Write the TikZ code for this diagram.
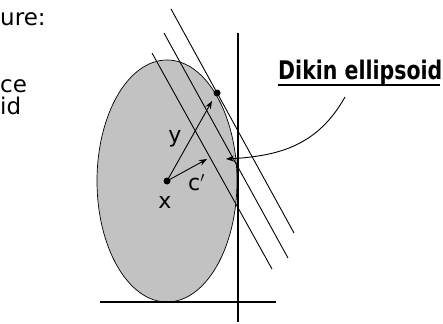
\documentclass[tikz,border=0pt]{standalone}
\usepackage{fontspec}
\setmainfont{DejaVu Sans}
\usetikzlibrary{arrows.meta}
\definecolor{ellgray}{RGB}{194,194,194}
\begin{document}
\begin{tikzpicture}[x=1pt,y=-1pt,
  thinline/.style={line width=0.9pt},
  tip/.style={-{Stealth[length=8pt,width=6pt]}},
  dotnode/.style={circle,fill=black,inner sep=0pt,minimum size=7pt},
  lbl/.style={font=\fontsize{22}{26}\selectfont,inner sep=0pt,anchor=base},
  sidetext/.style={font=\fontsize{23}{27}\selectfont,inner sep=0pt,anchor=base west}]
\useasboundingbox (0,0) rectangle (443,323);
% ellipse
\filldraw[fill=ellgray,draw=black,line width=0.7pt] (167,181) ellipse [x radius=70, y radius=121];
% axes lines
\coordinate (hl) at (100,302); \coordinate (hr) at (276,302);
\coordinate (vt) at (238,33); \coordinate (vb) at (238,322);
\draw[line width=1.8pt] (hl) -- (hr);
\draw[line width=1.1pt] (vt) -- (vb);
% parallel lines
\coordinate (o1) at (171,9);  \coordinate (o2) at (294,233);
\coordinate (m1) at (164,33); \coordinate (m2) at (288,258);
\coordinate (i1) at (152,53); \coordinate (i2) at (272,269);
\draw[thinline] (o1) -- (o2);
\draw[thinline] (m1) -- (m2);
\draw[thinline] (i1) -- (i2);
% dots
\node[dotnode] (xdot) at (167,181) {};
\node[dotnode] (ydot) at (217,93) {};
\coordinate (yhead) at (212,101);
\coordinate (chead) at (207,159);
\draw[thinline,tip] (xdot.center) -- (yhead);
\draw[thinline,tip] (xdot.center) -- (chead);
% labels
\node[lbl] (ylab) at (175,142) {y};
\node[lbl,anchor=base west] (clab) at (188,190) {c$'$};
\node[lbl] (xlab) at (165,208) {x};
% Dikin
\node[font=\fontsize{20.5}{24}\selectfont\bfseries,inner sep=0pt,anchor=base west] (dikin) at (278,80) {\scalebox{1}[1.25]{Dikin ellipsoid}};
\coordinate (ul1) at (278,85); \coordinate (ul2) at (440,85);
\draw[line width=2.6pt] (ul1) -- (ul2);
\coordinate (cs) at (345,97);
\coordinate (ce) at (226,159);
\draw[thinline,tip] (cs) .. controls (318,145) and (280,156) .. (ce);
% side text
\node[sidetext] (t1) at (0,26) {ure:};
\node[sidetext] (t2) at (0,93) {ce};
\node[sidetext] (t3) at (0,115) {id};
\end{tikzpicture}
\end{document}
